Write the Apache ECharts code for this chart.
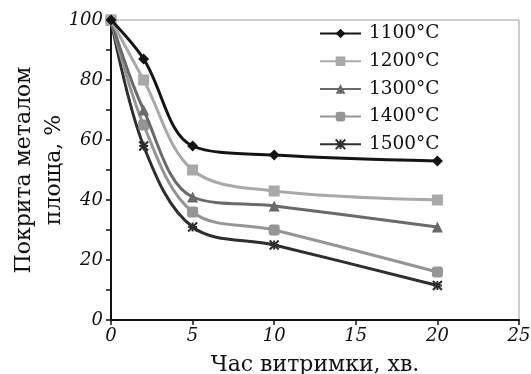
<!DOCTYPE html>
<html>
<head>
<meta charset="utf-8">
<script src="https://cdn.jsdelivr.net/npm/echarts@6/dist/echarts.min.js"></script>
<style>
  html, body { margin: 0; padding: 0; background: #fff; }
  #main { width: 531px; height: 374px; }
</style>
</head>
<body>
<div id="main"></div>
<script>
// час витримки, хв
var times = [0, 2, 5, 10, 20];
var names = ['1100°C', '1200°C', '1300°C', '1400°C', '1500°C'];
var s1100 = [100, 87, 58, 55, 53];
var s1200 = [100, 80, 50, 43, 40];
var s1300 = [100, 70, 41, 38, 31];
var s1400 = [100, 65, 36, 30, 16];
var s1500 = [100, 58, 31, 25, 11.5];

var myChart = echarts.init(document.getElementById('main'));

var colors = ['#141414', '#a9a9a9', '#6a6a6a', '#959595', '#2e2e2e'];
var symbols = ['diamond', 'rect', 'triangle', 'roundRect',
    'path://M0,0 L10,10 M10,0 L0,10 M5,0 L5,10 M0,5 L10,5'];
var values = [s1100, s1200, s1300, s1400, s1500];

function pairs(arr) {
    return times.map(function (t, i) { return [t, arr[i]]; });
}

var series = names.map(function (n, k) {
    return {
        name: n,
        type: 'line',
        smooth: 0.35,
        data: pairs(values[k]),
        symbol: symbols[k],
        symbolSize: k == 4 ? 9 : 11,
        lineStyle: { color: colors[k], width: 3 },
        itemStyle: { color: colors[k], borderColor: colors[k], borderWidth: k == 4 ? 2 : 0 },
        z: 10 - k
    };
});

var serif = '"DejaVu Serif", "Liberation Serif", serif';

var option = {
    animation: false,
    color: colors,
    grid: {
        left: 111, right: 12, top: 20, bottom: 54,
        outerBoundsMode: 'none',
        show: true, borderColor: '#9a9a9a', borderWidth: 1
    },
    legend: {
        orient: 'vertical',
        left: 314, top: 19,
        itemWidth: 41, itemHeight: 12, itemGap: 8.7,
        textStyle: { fontFamily: serif, fontSize: 18.5, color: '#111', lineHeight: 18, padding: [0, 0, 0, 3] },
        data: names
    },
    xAxis: {
        type: 'value', min: 0, max: 25, interval: 5,
        name: 'Час витримки, хв.',
        nameLocation: 'middle', nameGap: 34,
        nameTextStyle: { fontFamily: serif, fontSize: 22, color: '#111' },
        axisLine: { lineStyle: { color: '#111', width: 2 } },
        axisTick: { length: 5, lineStyle: { color: '#111', width: 1.5 } },
        axisLabel: { fontFamily: serif, fontStyle: 'italic', fontSize: 18, color: '#111', margin: 7 },
        splitLine: { show: false }
    },
    yAxis: {
        type: 'value', min: 0, max: 100, interval: 20,
        name: 'Покрита металом\nплоща, %',
        nameLocation: 'middle', nameGap: 42,
        nameMoveOverlap: false,
        nameTextStyle: { fontFamily: serif, fontSize: 22, color: '#111', lineHeight: 30 },
        axisLine: { show: true, lineStyle: { color: '#111', width: 2 } },
        axisTick: { length: 5, lineStyle: { color: '#111', width: 1.5 } },
        minorTick: { show: true, splitNumber: 2, length: 5, lineStyle: { color: '#111', width: 1.5 } },
        axisLabel: { fontFamily: serif, fontStyle: 'italic', fontSize: 18, color: '#111', margin: 8 },
        splitLine: { show: false }
    },
    series: series
};

myChart.setOption(option);
</script>
</body>
</html>
